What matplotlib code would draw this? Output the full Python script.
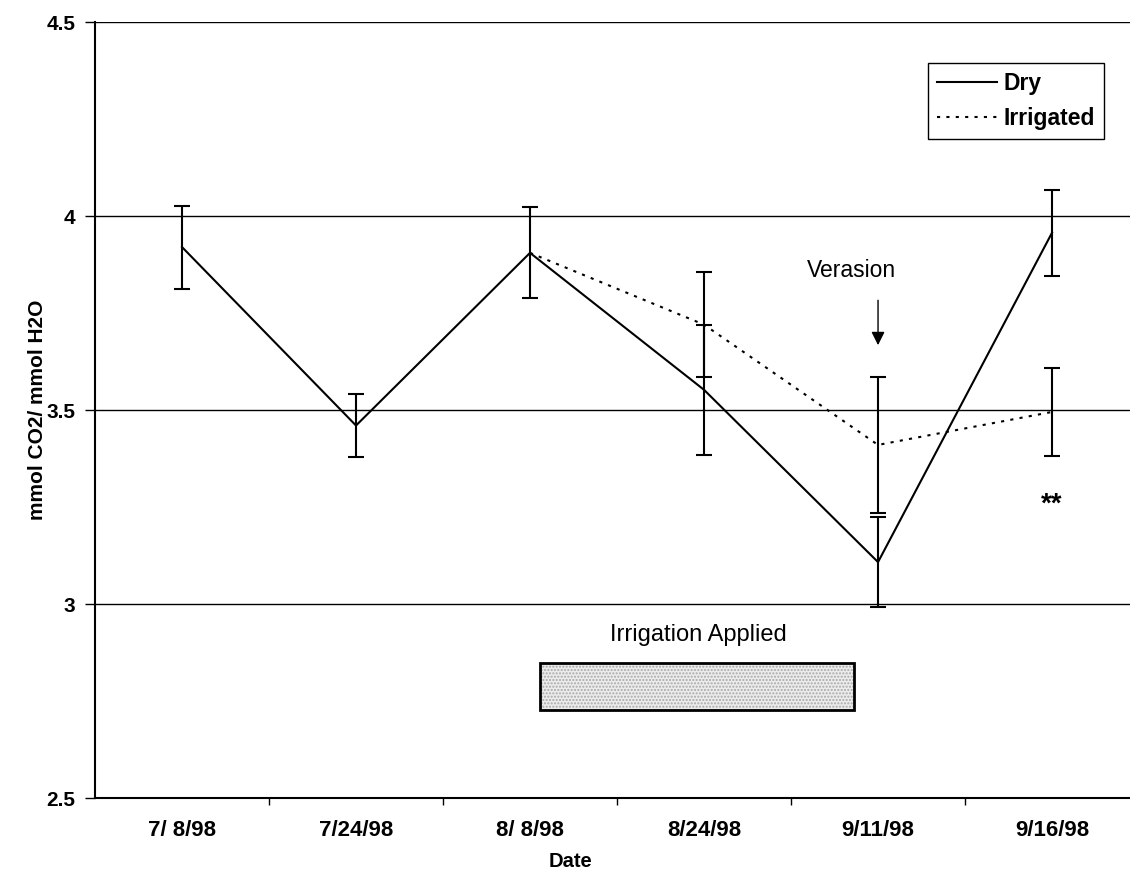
import numpy as np
import matplotlib
matplotlib.use('Agg')
import matplotlib.pyplot as plt
from matplotlib.patches import Rectangle
from matplotlib.lines import Line2D

plt.rcParams['font.family'] = ['Liberation Sans', 'DejaVu Sans']

# data
dates = ['7/ 8/98', '7/24/98', '8/ 8/98', '8/24/98', '9/11/98', '9/16/98']
dry = [3.92, 3.46, 3.905, 3.552, 3.108, 3.957]
dry_err = [0.107, 0.082, 0.117, 0.167, 0.115, 0.111]
irrigated = [np.nan, np.nan, 3.905, 3.72, 3.41, 3.495]
irr_err = [np.nan, np.nan, np.nan, 0.135, 0.175, 0.114]
yticks = [2.5, 3, 3.5, 4, 4.5]
ytick_labels = ['2.5', '3', '3.5', '4', '4.5']

x = np.arange(len(dates))

fig = plt.figure(figsize=(11.3, 8.8), dpi=100)
ax = fig.add_axes([95/1130, 1-798/880, 1-95/1130, (798-22)/880])

dotted = (0, (1.5, 3))
ax.errorbar(x, dry, yerr=dry_err, color='black', lw=1.5, capsize=5.5,
            elinewidth=1.5, capthick=1.5, zorder=3)
ax.errorbar(x, irrigated, yerr=irr_err, color='black', lw=1.5, ls=dotted,
            capsize=5.5, elinewidth=1.5, capthick=1.5, zorder=3)

ax.set_xlim(-0.5, 5.448)
ax.set_ylim(2.5, 4.5)
ax.set_yticks(yticks)
ax.set_yticklabels(ytick_labels, fontweight='bold', fontsize=15)
ax.set_xticks(x)
ax.set_xticklabels(dates, fontweight='bold', fontsize=16)
ax.set_xticks(np.arange(0.5, 5.5, 1), minor=True)
ax.tick_params(axis='x', which='major', length=0, pad=16)
ax.tick_params(axis='x', which='minor', length=5, direction='out', width=1)
ax.tick_params(axis='y', length=7, width=1, direction='out', pad=7)
ax.grid(True, axis='y', color='black', lw=1)
ax.set_axisbelow(True)
for s in ['top', 'right']:
    ax.spines[s].set_visible(False)
ax.spines['left'].set_linewidth(1.5)
ax.spines['bottom'].set_linewidth(1.5)

ax.set_ylabel('mmol CO2/ mmol H2O', fontweight='bold', fontsize=15)
ax.yaxis.set_label_coords((47-95)/1035, 0.5)
ax.set_xlabel('Date', fontweight='bold', fontsize=14.5)
ax.xaxis.set_label_coords((570-95)/1035, -(852-798)/776)

# annotations
ax.text(4 - 0.155, 3.86, 'Verasion', ha='center', va='center', fontsize=16.5)
ax.annotate('', xy=(4, 3.66), xytext=(4, 3.79),
            arrowprops=dict(arrowstyle='-|>', color='black', lw=1, mutation_scale=20))
ax.text(5, 3.255, '**', ha='center', va='center', fontsize=20, fontweight='bold')
ax.text(2.97, 2.92, 'Irrigation Applied', ha='center', va='center', fontsize=17)
ax.add_patch(Rectangle((2.06, 2.727), 1.8, 0.12, facecolor='#ececec',
                       edgecolor='#a8a8a8', hatch='.....', lw=0, zorder=2))
ax.add_patch(Rectangle((2.06, 2.727), 1.8, 0.12, facecolor='none',
                       edgecolor='black', lw=2, zorder=2))

handles = [Line2D([], [], color='black', lw=1.5),
           Line2D([], [], color='black', lw=1.5, ls=dotted)]
leg = ax.legend(handles, ['Dry', 'Irrigated'], loc='upper left',
                bbox_to_anchor=((928-95)/1035, 1-(63-22)/776),
                handlelength=2.6, handletextpad=0.3, labelspacing=0.5,
                borderpad=0.4, fancybox=False, framealpha=1, edgecolor='black',
                prop={'weight': 'bold', 'size': 16.5}, borderaxespad=0)
leg.get_frame().set_linewidth(1)

fig.savefig('out.png', dpi=100)
